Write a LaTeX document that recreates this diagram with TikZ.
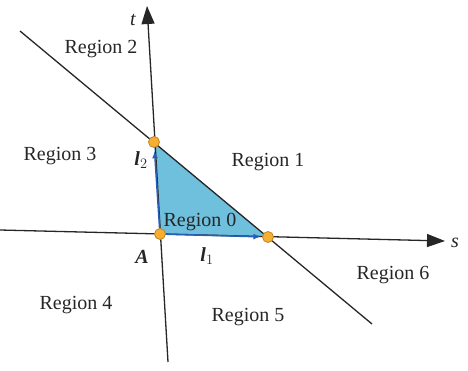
\documentclass[tikz,border=0pt]{standalone}
\usepackage{fontspec}
\setmainfont{Liberation Serif}
\usetikzlibrary{arrows.meta,calc}
\definecolor{trifill}{RGB}{110,192,220}
\definecolor{vecblue}{RGB}{40,95,180}
\definecolor{dotfill}{RGB}{245,175,50}
\definecolor{dotedge}{RGB}{200,130,30}
\begin{document}
\begin{tikzpicture}[x=1pt,y=-1pt,
  lbl/.style={font=\fontsize{20}{23}\selectfont, inner sep=0pt, text=black!85},
  axisline/.style={line width=1.3pt, draw=black!85},
  vec/.style={line width=1.6pt, draw=vecblue, -{Latex[length=7pt,width=6pt]}},
  dot/.style={circle, fill=dotfill, draw=dotedge, line width=0.8pt, minimum size=11pt, inner sep=0pt}]
\useasboundingbox (0,0) rectangle (468,370);
\coordinate (O) at (160,234);
\coordinate (T) at (154,142);
\coordinate (S) at (268,237);
\coordinate (tb) at (168,362);
\coordinate (tt) at (147,6);
\coordinate (sl) at (0,230);
\coordinate (sr) at (445,241);
\coordinate (d1) at (20,31);
\coordinate (d2) at (372,324);
\fill[trifill] (O) -- (T) -- (S) -- cycle;
\draw[axisline, -{Triangle[length=18pt,width=13pt]}] (tb) -- (tt);
\draw[axisline, -{Triangle[length=18pt,width=13pt]}] (sl) -- (sr);
\draw[axisline] (d1) -- (d2);
\draw[vec] (O) -- ($(O)!0.9!(T)$);
\draw[vec] (O) -- ($(O)!0.93!(S)$);
\node[dot] (nT) at (T) {};
\node[dot] (nS) at (S) {};
\node[dot] (nO) at (O) {};
\node[lbl] (r2) at (101,49) {Region 2};
\node[lbl] (r3) at (60,156) {Region 3};
\node[lbl] (r1) at (268,162) {Region 1};
\node[lbl] (r0) at (200,222) {Region 0};
\node[lbl] (r6) at (393,275) {Region 6};
\node[lbl] (r4) at (76,305) {Region 4};
\node[lbl] (r5) at (248,317) {Region 5};
\node[lbl] (A) at (142,257) {\textbf{\textit{A}}};
\node[lbl] (l1) at (207,256) {\textbf{\textit{l}}$_1$};
\node[lbl] (l2) at (141,160) {\textbf{\textit{l}}$_2$};
\node[lbl] (t) at (133,20) {\textit{t}};
\node[lbl] (s) at (455,243) {\textit{s}};
\end{tikzpicture}
\end{document}
